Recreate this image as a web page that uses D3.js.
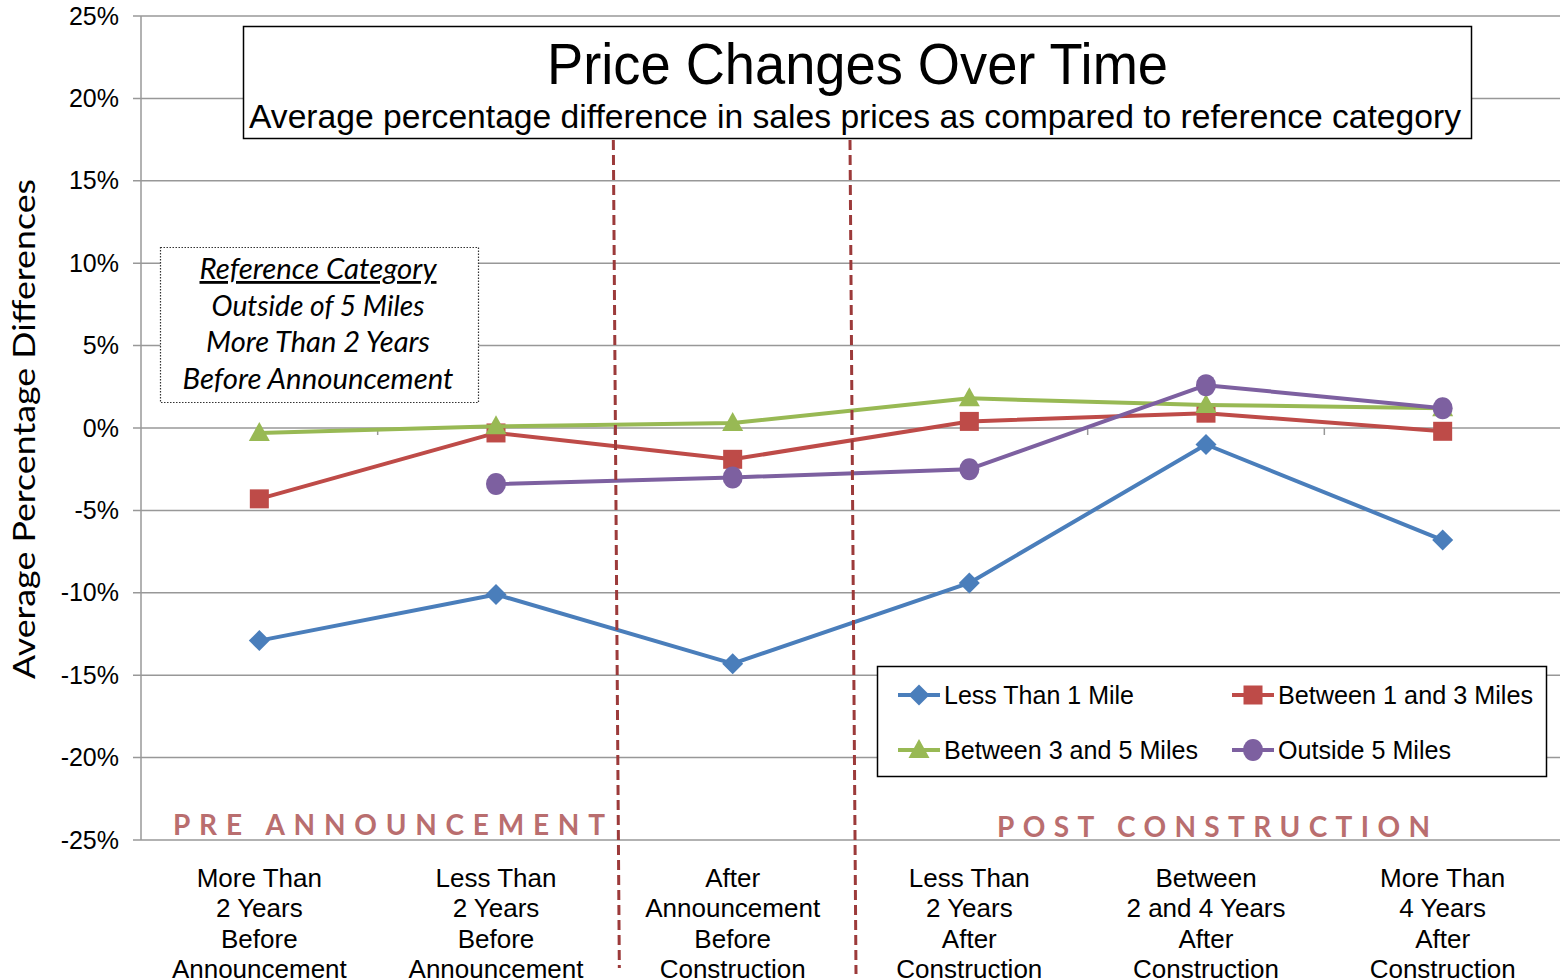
<!DOCTYPE html>
<html>
<head>
<meta charset="utf-8">
<script src="https://cdn.jsdelivr.net/npm/d3@7"></script>
<style>
  html, body { margin: 0; padding: 0; background: #fff; }
  svg { display: block; }
</style>
</head>
<body>
<svg id="chart" width="1560" height="980"></svg>
<script>
// ---------- DATA ----------
const categories = [
  "More Than\n2 Years\nBefore\nAnnouncement",
  "Less Than\n2 Years\nBefore\nAnnouncement",
  "After\nAnnouncement\nBefore\nConstruction",
  "Less Than\n2 Years\nAfter\nConstruction",
  "Between\n2 and 4 Years\nAfter\nConstruction",
  "More Than\n4 Years\nAfter\nConstruction"
];
const seriesNames = ["Less Than 1 Mile", "Between 1 and 3 Miles", "Between 3 and 5 Miles", "Outside 5 Miles"];
const lessThan1Mile   = [-12.9, -10.1, -14.3, -9.4, -1.0, -6.8];
const between1and3    = [-4.3, -0.3, -1.9, 0.4, 0.9, -0.2];
const between3and5    = [-0.3, 0.1, 0.3, 1.8, 1.4, 1.2];
const outside5Miles   = [null, -3.4, -3.0, -2.5, 2.6, 1.2];
const yTicks = [25, 20, 15, 10, 5, 0, -5, -10, -15, -20, -25];
const titleText = "Price Changes Over Time";
const subtitleText = "Average percentage difference in sales prices as compared to reference category";
const yAxisTitle = "Average Percentage Differences";
const refLines = ["Reference Category", "Outside of 5 Miles", "More Than 2 Years", "Before Announcement"];
const phaseLabels = ["PRE ANNOUNCEMENT", "POST CONSTRUCTION"];

// ---------- STYLE ----------
const colors = ["#4a7ebb", "#be4b48", "#98b954", "#7d60a0"];
const shapes = ["diamond", "square", "triangle", "circle"];
const seriesValues = [lessThan1Mile, between1and3, between3and5, outside5Miles];
const sansN = "'Liberation Sans', Arial, sans-serif";
const calib = "Lato, 'Open Sans', sans-serif";

const svg = d3.select("#chart");

const x = d3.scalePoint().domain(d3.range(categories.length)).range([141, 1561]).padding(0.5);
const y = d3.scaleLinear().domain([-25, 25]).range([840, 16]);

// gridlines
svg.append("g").selectAll("line").data(yTicks).join("line")
  .attr("x1", 133).attr("x2", 1560)
  .attr("y1", d => y(d)).attr("y2", d => y(d))
  .attr("stroke", "#989898").attr("stroke-width", 1.5);

// y axis line
svg.append("line").attr("x1", 141).attr("x2", 141).attr("y1", y(25)).attr("y2", y(-25))
  .attr("stroke", "#989898").attr("stroke-width", 1.5);

// y tick labels
svg.append("g").selectAll("text").data(yTicks).join("text")
  .attr("x", 119).attr("y", d => y(d) + 8.5)
  .attr("text-anchor", "end")
  .attr("font-family", sansN).attr("font-size", 25).attr("fill", "#000")
  .text(d => d + "%");

// category boundary ticks on zero line
const step = x.step();
svg.append("g").selectAll("line").data(d3.range(1, categories.length)).join("line")
  .attr("x1", d => x(0) - step / 2 + d * step).attr("x2", d => x(0) - step / 2 + d * step)
  .attr("y1", y(0)).attr("y2", y(0) + 7)
  .attr("stroke", "#989898").attr("stroke-width", 1.5);

// y axis title
svg.append("text")
  .attr("transform", `translate(35, ${(178 + 680) / 2}) rotate(-90)`)
  .attr("text-anchor", "middle")
  .attr("font-family", calib).attr("font-size", 31)
  .attr("textLength", 500).attr("lengthAdjust", "spacingAndGlyphs")
  .text(yAxisTitle);

// category labels
categories.forEach((c, i) => {
  const t = svg.append("text")
    .attr("text-anchor", "middle")
    .attr("font-family", sansN).attr("font-size", 26).attr("fill", "#000");
  c.split("\n").forEach((ln, j) => {
    t.append("tspan").attr("x", x(i)).attr("y", 887 + j * 30.3).text(ln);
  });
});

// title box
svg.append("rect").attr("x", 243.5).attr("y", 26.5).attr("width", 1228).attr("height", 112)
  .attr("fill", "#fff").attr("stroke", "#000").attr("stroke-width", 1.5);
svg.append("text").attr("x", 857.5).attr("y", 84).attr("text-anchor", "middle")
  .attr("font-family", sansN).attr("font-size", 58)
  .attr("textLength", 621).attr("lengthAdjust", "spacingAndGlyphs")
  .text(titleText);
svg.append("text").attr("x", 855).attr("y", 128).attr("text-anchor", "middle")
  .attr("font-family", sansN).attr("font-size", 33)
  .attr("textLength", 1212).attr("lengthAdjust", "spacingAndGlyphs")
  .text(subtitleText);

// reference box
svg.append("rect").attr("x", 160.5).attr("y", 247.5).attr("width", 318).attr("height", 155)
  .attr("fill", "#fff").attr("stroke", "#333").attr("stroke-width", 1.2).attr("stroke-dasharray", "1.5,1.5");
const refWidths = [237, 213, 224, 271];
refLines.forEach((ln, j) => {
  svg.append("text").attr("x", 318).attr("y", 279 + j * 36.5)
    .attr("text-anchor", "middle")
    .attr("font-family", calib).attr("font-style", "italic").attr("font-size", 28)
    .attr("textLength", refWidths[j]).attr("lengthAdjust", "spacingAndGlyphs")
    .attr("text-decoration", j === 0 ? "underline" : null)
    .text(ln);
});

// series lines and markers
const line = d3.line().defined(d => d.v !== null).x(d => x(d.i)).y(d => y(d.v));
function drawMarker(g, shape, cx, cy, color) {
  if (shape === "diamond") {
    g.append("path").attr("d", `M${cx},${cy - 10.5}L${cx + 10.5},${cy}L${cx},${cy + 10.5}L${cx - 10.5},${cy}Z`).attr("fill", color);
  } else if (shape === "square") {
    g.append("rect").attr("x", cx - 9.5).attr("y", cy - 9.5).attr("width", 19).attr("height", 19).attr("fill", color);
  } else if (shape === "triangle") {
    g.append("path").attr("d", `M${cx},${cy - 11}L${cx + 10.5},${cy + 8}L${cx - 10.5},${cy + 8}Z`).attr("fill", color);
  } else {
    g.append("ellipse").attr("cx", cx).attr("cy", cy).attr("rx", 10).attr("ry", 11).attr("fill", color);
  }
}
seriesValues.forEach((vals, s) => {
  const pts = vals.map((v, i) => ({ v, i }));
  const g = svg.append("g");
  g.append("path").datum(pts).attr("d", line)
    .attr("fill", "none").attr("stroke", colors[s]).attr("stroke-width", 4).attr("stroke-linejoin", "round");
  pts.filter(p => p.v !== null).forEach(p => drawMarker(g, shapes[s], x(p.i), y(p.v), colors[s]));
});

// phase divider dashed lines (slightly slanted in original)
const dividers = [[2, 968], [3, 974]];
dividers.forEach(([k, yb]) => {
  const base = x(0) - step / 2 + k * step;
  svg.append("line")
    .attr("x1", base - 1).attr("y1", 140)
    .attr("x2", base + 5).attr("y2", yb)
    .attr("stroke", "#9c3a3a").attr("stroke-width", 3).attr("stroke-dasharray", "10,5");
});

// phase labels
svg.append("text").attr("x", 173).attr("y", 835)
  .attr("font-family", calib).attr("font-weight", "bold").attr("font-size", 28).attr("fill", "#b96e6f")
  .attr("textLength", 432).attr("lengthAdjust", "spacing")
  .text(phaseLabels[0]);
svg.append("text").attr("x", 997).attr("y", 837)
  .attr("font-family", calib).attr("font-weight", "bold").attr("font-size", 28).attr("fill", "#b96e6f")
  .attr("textLength", 433).attr("lengthAdjust", "spacing")
  .text(phaseLabels[1]);

// legend
const lg = svg.append("g");
lg.append("rect").attr("x", 877.5).attr("y", 666.5).attr("width", 669).attr("height", 110)
  .attr("fill", "#fff").attr("stroke", "#000").attr("stroke-width", 1.5);
const legPos = [[898, 695], [1232, 695], [898, 750], [1232, 750]];
const legWidths = [190, 255, 254, 173];
seriesNames.forEach((n, s) => {
  const [lx, ly] = legPos[s];
  lg.append("line").attr("x1", lx).attr("x2", lx + 42).attr("y1", ly).attr("y2", ly)
    .attr("stroke", colors[s]).attr("stroke-width", 4);
  drawMarker(lg, shapes[s], lx + 21, ly, colors[s]);
  lg.append("text").attr("x", lx + 46).attr("y", ly + 9)
    .attr("font-family", sansN).attr("font-size", 26)
    .attr("textLength", legWidths[s]).attr("lengthAdjust", "spacingAndGlyphs")
    .text(n);
});
</script>
</body>
</html>
